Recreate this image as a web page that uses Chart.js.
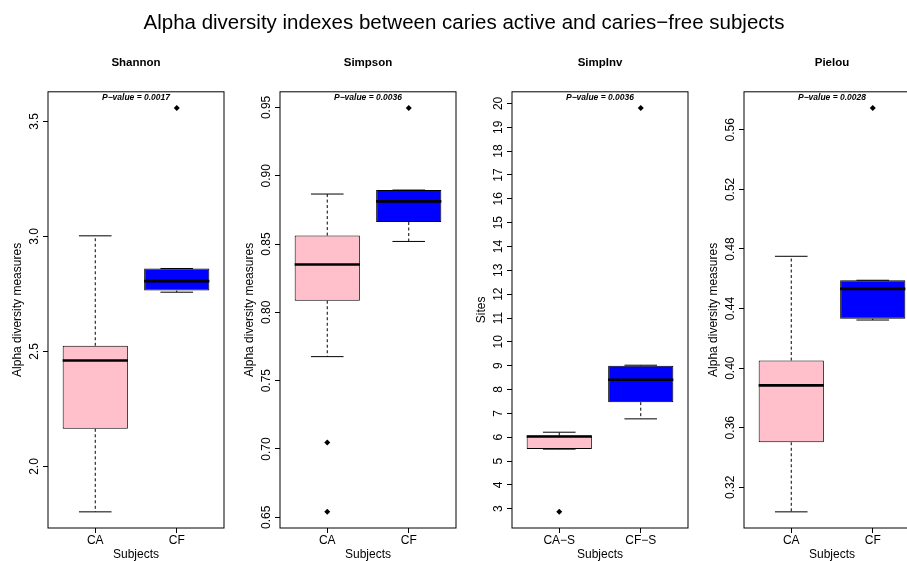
<!DOCTYPE html>
<html>
<head>
<meta charset="utf-8">
<title>Alpha diversity indexes</title>
<script src="https://cdn.jsdelivr.net/npm/chart.js@4.4.1/dist/chart.umd.min.js"></script>
<style>
    html, body { margin: 0; padding: 0; background: #fff; }
    body {
        width: 907px; height: 561px; overflow: hidden; position: relative;
        font-family: "Liberation Sans", Arial, Helvetica, sans-serif;
    }
    .main-title {
        position: absolute; left: 0; top: 10px; width: 928px;
        text-align: center; font-size: 20.5px; line-height: 24px; color: #000; z-index: 2;
    }
    canvas.panel { position: absolute; top: 0; }
</style>
</head>
<body>
<div class="main-title">Alpha diversity indexes between caries active and caries−free subjects</div>
<canvas class="panel" id="panel0" width="232" height="561" style="left:0px"></canvas>
<canvas class="panel" id="panel1" width="232" height="561" style="left:232px"></canvas>
<canvas class="panel" id="panel2" width="232" height="561" style="left:464px"></canvas>
<canvas class="panel" id="panel3" width="232" height="561" style="left:696px"></canvas>
<script>
const FONT = '"Liberation Sans", Arial, Helvetica, sans-serif';

// --- DATA ---
const panelNames = ['Shannon', 'Simpson', 'SimpInv', 'Pielou'];
const yAxisTitles = ['Alpha diversity measures', 'Alpha diversity measures', 'Sites', 'Alpha diversity measures'];
const groupLabels = [['CA', 'CF'], ['CA', 'CF'], ['CA−S', 'CF−S'], ['CA', 'CF']];
const pValues = ['0.0017', '0.0036', '0.0036', '0.0028'];
const groupColors = ['pink', 'blue'];

// per group: [lower whisker, Q1, median, Q3, upper whisker]
const shannonBoxes = [[1.803, 2.164, 2.461, 2.525, 3.003], [2.758, 2.765, 2.806, 2.861, 2.861]];
const simpsonBoxes = [[0.7676, 0.8085, 0.835, 0.8562, 0.8866], [0.8519, 0.8661, 0.8812, 0.8895, 0.8895]];
const simpinvBoxes = [[5.50, 5.51, 6.03, 6.07, 6.21], [6.77, 7.47, 8.41, 9.00, 9.02]];
const pielouBoxes = [[0.3035, 0.3502, 0.3884, 0.4051, 0.4751], [0.4323, 0.4331, 0.4532, 0.459, 0.459]];

// outliers per group
const shannonOutliers = [[], [3.559]];
const simpsonOutliers = [[0.7047, 0.654], [0.9496]];
const simpinvOutliers = [[2.87], [19.81]];
const pielouOutliers = [[], [0.5747]];

// y tick labels
const shannonTicks = [2.0, 2.5, 3.0, 3.5];
const simpsonTicks = [0.65, 0.70, 0.75, 0.80, 0.85, 0.90, 0.95];
const simpinvTicks = [3, 4, 5, 6, 7, 8, 9, 10, 11, 12, 13, 14, 15, 16, 17, 18, 19, 20];
const pielouTicks = [0.32, 0.36, 0.40, 0.44, 0.48, 0.52, 0.56];
const tickDecimals = [1, 2, 0, 2];

const allBoxes = [shannonBoxes, simpsonBoxes, simpinvBoxes, pielouBoxes];
const allOutliers = [shannonOutliers, simpsonOutliers, simpinvOutliers, pielouOutliers];
const allTicks = [shannonTicks, simpsonTicks, simpinvTicks, pielouTicks];

// measure text so rotated y labels sit at a fixed distance from the axis
const measureCtx = document.createElement('canvas').getContext('2d');
measureCtx.font = '12px ' + FONT;

// whiskers, staples, medians, frame and p-value
const boxplotExtras = {
    id: 'boxplotExtras',
    beforeDatasetsDraw(chart, args, opts) {
        const ctx = chart.ctx;
        const y = chart.scales.y;
        const bars = chart.getDatasetMeta(0).data;
        ctx.save();
        ctx.strokeStyle = '#000';
        ctx.lineWidth = 1;
        bars.forEach((bar, i) => {
            const [lo, q1, , q3, hi] = opts.stats[i];
            ctx.setLineDash([3, 2.5]);
            ctx.beginPath();
            ctx.moveTo(bar.x, y.getPixelForValue(q3));
            ctx.lineTo(bar.x, y.getPixelForValue(hi));
            ctx.moveTo(bar.x, y.getPixelForValue(q1));
            ctx.lineTo(bar.x, y.getPixelForValue(lo));
            ctx.stroke();
            ctx.setLineDash([]);
            const half = bar.width / 4;
            ctx.beginPath();
            [lo, hi].forEach(v => {
                const py = y.getPixelForValue(v);
                ctx.moveTo(bar.x - half, py);
                ctx.lineTo(bar.x + half, py);
            });
            ctx.stroke();
        });
        ctx.restore();
    },
    afterDatasetsDraw(chart, args, opts) {
        const ctx = chart.ctx;
        const y = chart.scales.y;
        const area = chart.chartArea;
        const bars = chart.getDatasetMeta(0).data;
        ctx.save();
        ctx.strokeStyle = '#000';
        ctx.lineWidth = 2.6;
        bars.forEach((bar, i) => {
            const py = y.getPixelForValue(opts.stats[i][2]);
            ctx.beginPath();
            ctx.moveTo(bar.x - bar.width / 2, py);
            ctx.lineTo(bar.x + bar.width / 2, py);
            ctx.stroke();
        });
        ctx.lineWidth = 1;
        ctx.strokeRect(area.left, area.top, area.right - area.left, area.bottom - area.top);
        ctx.fillStyle = '#000';
        ctx.font = 'italic bold 8.5px ' + FONT;
        ctx.textAlign = 'center';
        ctx.textBaseline = 'middle';
        ctx.fillText('P−value = ' + opts.pValue, (area.left + area.right) / 2, area.top + 6);
        ctx.restore();
    }
};

function buildPanel(idx) {
    const boxes = allBoxes[idx];
    const outliers = allOutliers[idx];
    const ticks = allTicks[idx];
    const labels = groupLabels[idx];
    const decimals = tickDecimals[idx];

    // R style limits: data range extended by 4% on each side
    const values = boxes.flat().concat(outliers.flat());
    const dMin = Math.min(...values);
    const dMax = Math.max(...values);
    const ext = (dMax - dMin) * 0.04;
    const n = boxes.length;

    const widest = Math.max(...ticks.map(v => measureCtx.measureText(v.toFixed(decimals)).width));

    const ctx = document.getElementById('panel' + idx).getContext('2d');
    new Chart(ctx, {
        type: 'bar',
        data: {
            datasets: [{
                type: 'bar',
                data: boxes.map((b, i) => ({ x: i + 1, y: [b[1], b[3]] })),
                backgroundColor: groupColors,
                borderColor: '#000',
                borderWidth: 1,
                borderSkipped: false,
                barPercentage: 0.8,
                categoryPercentage: 1
            }, {
                type: 'scatter',
                data: outliers.flatMap((list, i) => list.map(v => ({ x: i + 1, y: v }))),
                pointStyle: 'rectRot',
                radius: 3,
                backgroundColor: '#000',
                borderColor: '#000',
                borderWidth: 0
            }]
        },
        options: {
            responsive: false,
            animation: false,
            devicePixelRatio: 1,
            locale: 'en-US',
            layout: { padding: { left: 0, right: 8, top: 0, bottom: 0 } },
            plugins: {
                legend: { display: false },
                tooltip: { enabled: false },
                title: {
                    display: true,
                    fullSize: false,
                    text: panelNames[idx],
                    color: '#000',
                    font: { family: FONT, size: 11.5, weight: 'bold' },
                    padding: { top: 55.5, bottom: 22.5 }
                },
                boxplotExtras: { stats: boxes, pValue: pValues[idx] }
            },
            scales: {
                x: {
                    type: 'linear',
                    min: 0.5 - 0.04 * n,
                    max: n + 0.5 + 0.04 * n,
                    offset: false,
                    grid: { display: true, offset: false, drawOnChartArea: false, tickLength: 5, tickColor: '#000' },
                    border: { display: false },
                    ticks: {
                        stepSize: 1, includeBounds: false, maxRotation: 0, autoSkip: false,
                        padding: 0, color: '#000', font: { family: FONT, size: 12 },
                        callback: v => labels[v - 1]
                    },
                    title: {
                        display: true, text: 'Subjects', color: '#000',
                        font: { family: FONT, size: 12, lineHeight: 1 }, padding: 0
                    },
                    afterFit: s => { s.height = 33; }
                },
                y: {
                    type: 'linear',
                    min: dMin - ext,
                    max: dMax + ext,
                    afterBuildTicks: s => { s.ticks = ticks.map(v => ({ value: v })); },
                    grid: { display: true, drawOnChartArea: false, tickLength: 5, tickColor: '#000' },
                    border: { display: false },
                    ticks: {
                        minRotation: 90, maxRotation: 90, crossAlign: 'center', autoSkip: false,
                        padding: 13 - 5 - widest / 2, color: '#000', font: { family: FONT, size: 12 },
                        callback: v => Number(v).toFixed(decimals)
                    },
                    title: {
                        display: true, text: yAxisTitles[idx], color: '#000',
                        font: { family: FONT, size: 12 }, padding: { top: 10.8, bottom: 0 }
                    },
                    afterFit: s => { s.width = 48; }
                }
            }
        },
        plugins: [boxplotExtras]
    });
}

document.addEventListener('DOMContentLoaded', () => {
    panelNames.forEach((name, idx) => buildPanel(idx));
});
</script>
</body>
</html>
